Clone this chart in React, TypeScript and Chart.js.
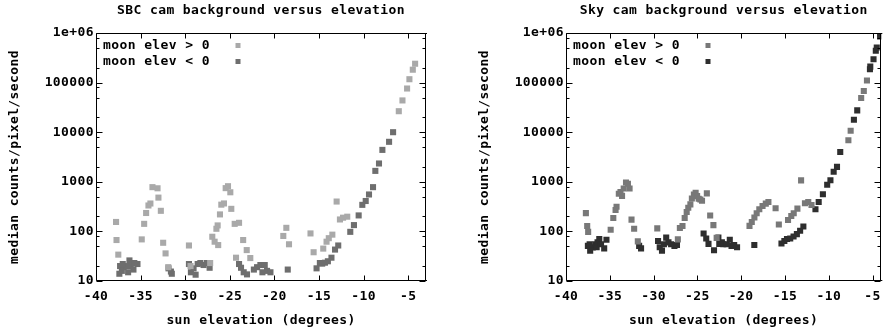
import React, { useEffect, useRef } from "react";
import { Chart, registerables } from "chart.js";

Chart.register(...registerables);

// ---------- data ----------
const xTicks = [-40, -35, -30, -25, -20, -15, -10, -5];
const yTicks = [10, 100, 1000, 10000, 100000, 1000000];
const yTickLabels = ["10", "100", "1000", "10000", "100000", "1e+06"];
const yMinorFactors = [2, 5, 8];
const legendLabels = ["moon elev > 0", "moon elev < 0"];

const sbcUpX = [-37.75, -37.7, -37.5, -34.87, -34.6, -34.38, -34.12, -33.9, -33.67, -33.1, -33.0, -32.73, -32.47, -32.2, -31.9, -29.58, -29.4, -27.2, -26.96, -26.7, -26.5, -26.3, -26.36, -26.1, -25.95, -25.65, -25.46, -25.2, -24.94, -24.83, -24.45, -23.96, -24.3, -23.5, -23.1, -22.7, -19.0, -18.66, -18.36, -15.95, -15.6, -14.52, -14.15, -13.9, -13.5, -13.02, -12.65, -12.3, -11.83, -6.05, -5.64, -5.12, -4.86, -4.48, -4.22];
const sbcUpY = [155, 67, 34, 69, 142, 235, 333, 365, 780, 740, 480, 260, 59, 36, 19, 52, 20, 23, 78, 62, 113, 53, 132, 220, 346, 366, 745, 815, 615, 285, 142, 149, 29.5, 67, 42, 29, 81, 118, 55, 91, 38, 45, 62, 73, 86, 400, 174, 189, 198, 26500, 43700, 76000, 117000, 182000, 240000];

const sbcDownX = [-37.3, -37.38, -37.1, -36.9, -36.55, -36.25, -36.1, -35.8, -35.7, -35.35, -37.0, -36.4, -31.87, -31.6, -31.5, -29.58, -29.36, -29.06, -28.83, -28.6, -28.3, -27.94, -27.56, -27.26, -23.96, -23.74, -23.44, -23.07, -22.3, -21.94, -21.57, -21.34, -21.08, -20.82, -20.44, -18.5, -15.27, -14.9, -14.64, -14.33, -14.0, -13.6, -13.2, -12.84, -11.49, -11.08, -10.55, -10.14, -9.76, -9.39, -8.94, -8.68, -8.27, -7.89, -7.14, -6.69];
const sbcDownY = [20, 14, 16, 19, 20, 26, 20, 17, 23, 22, 22, 15, 18, 15.5, 14, 22, 15, 18, 13.4, 22, 23, 21, 23, 18.5, 22, 18.5, 15, 13.6, 17, 19, 21, 15, 21, 16, 15, 17, 18, 23, 22.4, 23.4, 25, 29.5, 43, 52, 98, 134, 210, 343, 410, 555, 780, 1660, 2340, 4400, 6400, 10000];

const skyUpX = [-37.73, -37.58, -37.47, -34.9, -34.6, -34.34, -34.23, -33.97, -33.78, -33.6, -33.41, -33.15, -32.93, -32.74, -32.52, -32.22, -31.8, -29.58, -27.23, -27.0, -26.7, -26.45, -26.22, -26.04, -25.8, -25.63, -25.4, -25.2, -25.03, -24.85, -24.66, -24.47, -23.92, -23.54, -23.17, -22.8, -19.05, -18.79, -18.49, -18.23, -17.93, -17.56, -17.19, -16.89, -16.07, -15.7, -14.65, -14.28, -14.0, -13.58, -13.16, -12.72, -12.34, -11.97, -7.76, -7.5, -6.3, -6.0, -5.64];
const skyUpY = [234, 128, 98, 108, 186, 270, 314, 575, 620, 520, 735, 970, 915, 735, 173, 113, 63, 115, 69, 117, 128, 186, 246, 300, 350, 460, 555, 600, 515, 455, 440, 415, 585, 210, 134, 74, 129, 155, 190, 233, 280, 325, 363, 390, 293, 138, 170, 205, 233, 288, 1070, 370, 390, 340, 6900, 10700, 49000, 67500, 110000];

const skyDownX = [-37.5, -37.24, -36.95, -36.65, -36.5, -36.4, -36.2, -36.0, -35.64, -35.38, -37.3, -31.65, -31.43, -29.49, -29.3, -29.04, -28.82, -28.56, -28.3, -28.0, -27.62, -27.33, -24.29, -23.99, -23.73, -23.1, -22.6, -22.5, -22.2, -22.05, -21.66, -21.3, -21.1, -20.8, -20.47, -18.5, -15.4, -15.07, -14.77, -14.4, -14.02, -13.64, -13.27, -12.9, -11.52, -11.15, -10.67, -10.18, -9.81, -9.44, -9.06, -8.69, -7.13, -6.75, -5.3, -5.26, -4.89, -4.63, -4.52, -4.14];
const skyDownY = [51, 41, 47.6, 55, 48, 60, 70, 55, 45.5, 68, 55, 51, 45.5, 64, 48, 41, 55, 75, 60, 55, 51, 53, 91, 72, 56, 41.6, 75, 56, 60, 55, 55, 68, 51, 53, 48, 53, 57, 64, 70, 72, 79, 88, 103, 126, 280, 390, 560, 870, 1075, 1590, 2000, 4000, 17800, 27500, 186000, 210000, 295000, 440000, 510000, 850000];

// ---------- styling ----------
const FONT_FAMILY = '"DejaVu Sans Mono", monospace';
const FONT_SIZE = 13;
const LETTER_SPACING = "0.4px";
const FONT = { family: FONT_FAMILY, size: FONT_SIZE, weight: "bold" as const };

type Panel = {
  title: string;
  upX: number[]; upY: number[];
  downX: number[]; downY: number[];
  upColor: string; downColor: string;
  xMax: number;
  width: number;
  padLeft: number;
  padRight: number;
};

const panels: Panel[] = [
  {
    title: "SBC cam background versus elevation",
    upX: sbcUpX, upY: sbcUpY, downX: sbcDownX, downY: sbcDownY,
    upColor: "#a9a9a9", downColor: "#6e6e6e",
    xMax: -3, width: 445, padLeft: 0, padRight: 19,
  },
  {
    title: "Sky cam background versus elevation",
    upX: skyUpX, upY: skyUpY, downX: skyDownX, downY: skyDownY,
    upColor: "#787878", downColor: "#2e2e2e",
    xMax: -4, width: 444, padLeft: 25, padRight: 0,
  },
];

const framePlugin = {
  id: "gnuFrame",
  beforeUpdate(chart: any) {
    chart.ctx.letterSpacing = LETTER_SPACING;
  },
  beforeDraw(chart: any) {
    chart.ctx.letterSpacing = LETTER_SPACING;
  },
  afterDraw(chart: any) {
    const { ctx, chartArea: a, scales } = chart;
    const xs = scales.x;
    const ys = scales.y;
    const L = Math.round(a.left) + 0.5;
    const R = Math.round(a.right) - 0.5;
    const T = Math.round(a.top) + 0.5;
    const B = Math.round(a.bottom) - 0.5;
    const drawRight = a.right < chart.width - 1;
    ctx.save();
    ctx.strokeStyle = "#000";
    ctx.lineWidth = 1;
    ctx.beginPath();
    ctx.moveTo(L, T); ctx.lineTo(L, B); ctx.lineTo(a.right + 1, B);
    ctx.moveTo(L, T); ctx.lineTo(a.right + 1, T);
    if (drawRight) { ctx.moveTo(R, T); ctx.lineTo(R, B); }
    // x ticks
    xTicks.forEach((v) => {
      const px = Math.round(xs.getPixelForValue(v)) + 0.5;
      ctx.moveTo(px, B); ctx.lineTo(px, B - 5);
      ctx.moveTo(px, T); ctx.lineTo(px, T + 5);
    });
    // y ticks
    yTicks.forEach((v) => {
      const py = Math.round(ys.getPixelForValue(v)) + 0.5;
      ctx.moveTo(L, py); ctx.lineTo(L + 6, py);
      if (drawRight) { ctx.moveTo(R, py); ctx.lineTo(R - 6, py); }
    });
    yTicks.slice(0, -1).forEach((d) => {
      yMinorFactors.forEach((m) => {
        const py = Math.round(ys.getPixelForValue(d * m)) + 0.5;
        ctx.moveTo(L, py); ctx.lineTo(L + 3, py);
        if (drawRight) { ctx.moveTo(R, py); ctx.lineTo(R - 3, py); }
      });
    });
    ctx.stroke();

    // legend (gnuplot style: text left, marker right)
    ctx.letterSpacing = LETTER_SPACING;
    ctx.font = `bold ${FONT_SIZE}px ${FONT_FAMILY}`;
    ctx.textBaseline = "middle";
    ctx.textAlign = "left";
    chart.data.datasets.forEach((ds: any, i: number) => {
      const yy = a.top + 12.5 + i * 16;
      ctx.fillStyle = "#000";
      ctx.fillText(legendLabels[i], a.left + 7, yy);
      ctx.fillStyle = ds.backgroundColor;
      ctx.fillRect(a.left + 142 - 2.5, yy - 2.5, 5, 5);
    });
    ctx.restore();
  },
};

function makeConfig(p: Panel): any {
  const toPts = (xs: number[], ys: number[]) => xs.map((x, i) => ({ x, y: ys[i] }));
  return {
    type: "scatter",
    data: {
      datasets: [
        {
          label: legendLabels[0],
          data: toPts(p.upX, p.upY),
          backgroundColor: p.upColor,
          borderWidth: 0,
          pointStyle: "rect",
          pointRadius: 4.3,
        },
        {
          label: legendLabels[1],
          data: toPts(p.downX, p.downY),
          backgroundColor: p.downColor,
          borderWidth: 0,
          pointStyle: "rect",
          pointRadius: 4.3,
        },
      ],
    },
    options: {
      responsive: false,
      animation: false,
      events: [],
      layout: { padding: { left: p.padLeft, right: p.padRight, top: 0, bottom: 0 } },
      plugins: {
        legend: { display: false },
        tooltip: { enabled: false },
        title: {
          display: true,
          text: p.title,
          fullSize: false,
          color: "#000",
          font: { ...FONT, lineHeight: 1.2 },
          padding: { top: 3, bottom: 14.4 },
        },
      },
      scales: {
        x: {
          type: "linear",
          min: -40,
          max: p.xMax,
          grid: { display: false, drawTicks: false },
          border: { display: false },
          afterBuildTicks: (s: any) => {
            s.ticks = xTicks.map((v) => ({ value: v }));
          },
          afterFit: (s: any) => {
            s.height = 49;
          },
          ticks: {
            autoSkip: false,
            maxRotation: 0,
            padding: 8,
            color: "#000",
            font: FONT,
            callback: (v: number) => String(v),
          },
          title: {
            display: true,
            text: "sun elevation (degrees)",
            color: "#000",
            font: FONT,
            padding: { top: 0, bottom: 2 },
          },
        },
        y: {
          type: "logarithmic",
          min: 10,
          max: 1000000,
          grid: { display: false, drawTicks: false },
          border: { display: false },
          afterBuildTicks: (s: any) => {
            s.ticks = yTicks.map((v) => ({ value: v, major: true }));
          },
          afterFit: (s: any) => {
            s.width = 96;
          },
          ticks: {
            autoSkip: false,
            padding: 2,
            color: "#000",
            font: FONT,
            callback: (_v: number, i: number) => yTickLabels[i],
          },
          title: {
            display: true,
            text: "median counts/pixel/second",
            color: "#000",
            font: FONT,
            padding: { top: 7, bottom: 0 },
          },
        },
      },
    },
    plugins: [framePlugin],
  };
}

function PanelChart({ panel }: { panel: Panel }) {
  const ref = useRef<HTMLCanvasElement | null>(null);
  useEffect(() => {
    if (!ref.current) return;
    const chart = new Chart(ref.current, makeConfig(panel));
    return () => chart.destroy();
  }, [panel]);
  return (
    <canvas
      ref={ref}
      width={panel.width}
      height={330}
      style={{ display: "block", width: panel.width, height: 330 }}
    />
  );
}

export default function App() {
  return (
    <div
      style={{
        position: "fixed",
        left: 0,
        top: 0,
        width: 889,
        height: 330,
        display: "flex",
        background: "#fff",
        overflow: "hidden",
      }}
    >
      {panels.map((p) => (
        <PanelChart key={p.title} panel={p} />
      ))}
    </div>
  );
}
